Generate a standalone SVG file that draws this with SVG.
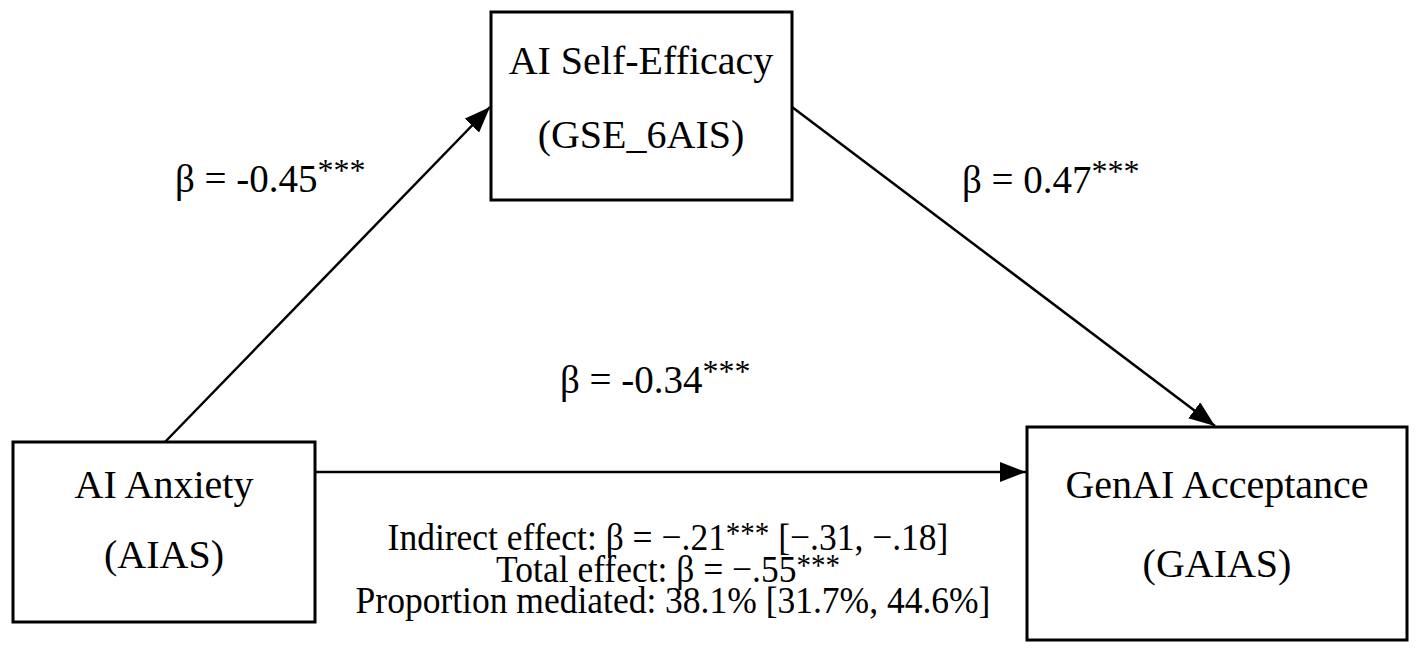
<svg xmlns="http://www.w3.org/2000/svg" width="1418" height="655" viewBox="0 0 1418 655">
<defs>
<style>
.box{fill:#fff;stroke:#000;stroke-width:3}
.t{font-family:"Liberation Serif","Times New Roman",serif;fill:#000;text-anchor:middle}
.n{font-size:40px}
.b{font-size:39px;text-anchor:start}
.s{font-size:32px}
.e{font-size:35.5px}
.se{font-size:29px}
.c{stroke:#000;stroke-width:2.5;fill:none}
</style>
<marker id="arr" viewBox="0 0 26 20" refX="26" refY="10" markerWidth="26" markerHeight="20" markerUnits="userSpaceOnUse" orient="auto">
<path d="M0,0 L26,10 L0,20 Z" fill="#000"/>
</marker>
</defs>
<rect width="1418" height="655" fill="#fff"/>
<g id="connectors">
<line class="c" x1="165" y1="442" x2="490" y2="107" marker-end="url(#arr)"/>
<line class="c" x1="792" y1="107" x2="1215" y2="426" marker-end="url(#arr)"/>
<line class="c" x1="315" y1="472" x2="1026" y2="472" marker-end="url(#arr)"/>
</g>
<g id="node-selfefficacy">
<rect class="box" x="491" y="12" width="301" height="188"/>
<text class="t n" x="641" y="74">AI Self-Efficacy</text>
<text class="t n" x="641" y="148">(GSE_6AIS)</text>
</g>
<g id="node-anxiety">
<rect class="box" x="13" y="442" width="302" height="180"/>
<text class="t n" x="164" y="498">AI Anxiety</text>
<text class="t n" x="164" y="568">(AIAS)</text>
</g>
<g id="node-acceptance">
<rect class="box" x="1027" y="427" width="380" height="213"/>
<text class="t n" x="1217" y="498">GenAI Acceptance</text>
<text class="t n" x="1217" y="577">(GAIAS)</text>
</g>
<g id="labels">
<text class="t b" x="175" y="192">β = -0.45<tspan class="s" dy="-11">***</tspan></text>
<text class="t b" x="962" y="193">β = 0.47<tspan class="s" dy="-11">***</tspan></text>
<text class="t b" x="560" y="393">β = -0.34<tspan class="s" dy="-11">***</tspan></text>
<text class="t e" transform="translate(668,550) scale(1,1.08)">Indirect effect: β = −.21<tspan class="se" dy="-6">***</tspan><tspan dy="6"> [−.31, −.18]</tspan></text>
<text class="t e" transform="translate(668,582) scale(1,1.08)">Total effect: β = −.55<tspan class="se" dy="-6">***</tspan></text>
<text class="t e" transform="translate(673,613) scale(1,1.08)">Proportion mediated: 38.1% [31.7%, 44.6%]</text>
</g>
</svg>
